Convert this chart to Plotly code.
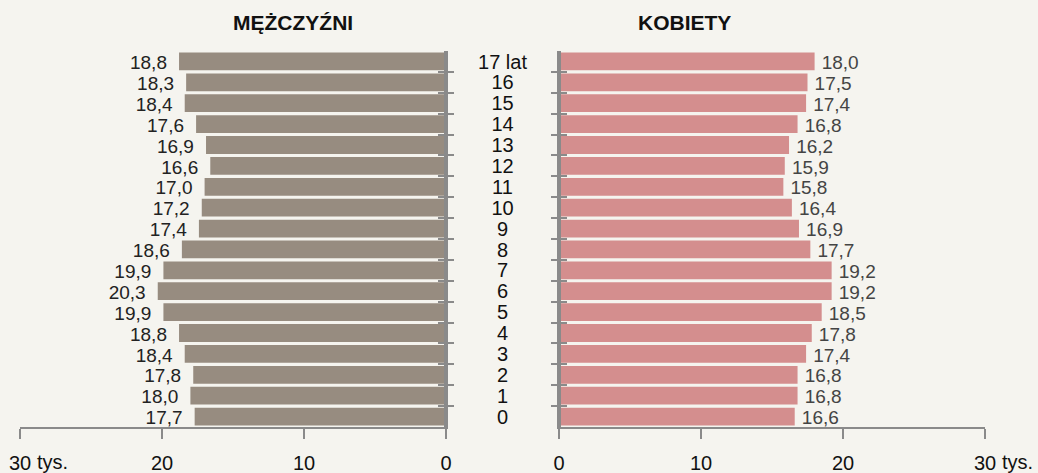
import plotly.graph_objects as go

ages = list(range(18))
age_labels = ["0", "1", "2", "3", "4", "5", "6", "7", "8", "9", "10", "11", "12", "13", "14", "15", "16", "17 lat"]
men = [17.7, 18.0, 17.8, 18.4, 18.8, 19.9, 20.3, 19.9, 18.6, 17.4, 17.2, 17.0, 16.6, 16.9, 17.6, 18.4, 18.3, 18.8]
women = [16.6, 16.8, 16.8, 17.4, 17.8, 18.5, 19.2, 19.2, 17.7, 16.9, 16.4, 15.8, 15.9, 16.2, 16.8, 17.4, 17.5, 18.0]
xticks = [0, 10, 20, 30]
men_ticktext = ["0", "10", "20", "30"]
women_ticktext = ["0", "10", "20", "30"]
unit = "tys."

def fmt(v):
    return f"{v:.1f}".replace(".", ",")

BG = "#f5f4ef"
AX = "#8a8a8a"
FONT = "Liberation Sans, Arial, sans-serif"
W, H = 1038, 473

fig = go.Figure()

fig.add_trace(go.Bar(x=men, y=ages, orientation="h", marker=dict(color="#978c80", line=dict(width=0)),
                     width=0.85, xaxis="x", yaxis="y", hoverinfo="skip", showlegend=False))
fig.add_trace(go.Bar(x=women, y=ages, orientation="h", marker=dict(color="#d48e8e", line=dict(width=0)),
                     width=0.85, xaxis="x2", yaxis="y2", hoverinfo="skip", showlegend=False))

# value labels
fig.add_trace(go.Scatter(x=[v + 0.85 for v in men], y=[a - 0.14 for a in ages], mode="text",
                         text=[fmt(v) for v in men], textposition="middle left",
                         textfont=dict(family=FONT, size=19, color="#222222"),
                         xaxis="x", yaxis="y", hoverinfo="skip", showlegend=False, cliponaxis=False))
fig.add_trace(go.Scatter(x=[v + 0.5 for v in women], y=[a - 0.14 for a in ages], mode="text",
                         text=[fmt(v) for v in women], textposition="middle right",
                         textfont=dict(family=FONT, size=19, color="#444444"),
                         xaxis="x2", yaxis="y2", hoverinfo="skip", showlegend=False, cliponaxis=False))

# centre age labels
fig.add_trace(go.Scatter(x=[0] * len(ages), y=[a - 0.1 for a in ages], mode="text", text=age_labels,
                         textposition="middle center",
                         textfont=dict(family=FONT, size=20, color="#111111"),
                         xaxis="x3", yaxis="y3", hoverinfo="skip", showlegend=False, cliponaxis=False))

px = lambda p: p / W
py = lambda p: 1 - p / H
ydom = [py(427), py(51)]
bounds = [i - 0.5 for i in range(19)]

yax_common = dict(range=[-0.5, 17.5], domain=ydom, tickmode="array", tickvals=bounds,
                  showticklabels=False, ticks="inside", ticklen=8, tickwidth=2, tickcolor=AX,
                  showline=True, linecolor=AX, linewidth=2, showgrid=False, zeroline=False, fixedrange=True)
xax_common = dict(tickmode="array", tickvals=xticks, ticks="outside", ticklen=10,
                  tickwidth=2, tickcolor=AX, showline=True, linecolor=AX, linewidth=2, showgrid=False,
                  zeroline=False, tickfont=dict(family=FONT, size=20, color="#111111"),
                  ticklabelstandoff=7, fixedrange=True, automargin=False)

xa1 = dict(xax_common); xa1.update(domain=[px(20), px(446)], range=[30, 0], anchor="y", ticktext=men_ticktext)
xa2 = dict(xax_common); xa2.update(domain=[px(559), px(985)], range=[0, 30], anchor="y2", ticktext=women_ticktext)

ya1 = dict(yax_common); ya1.update(anchor="x", side="right")
ya2 = dict(yax_common); ya2.update(anchor="x2", side="left")
ya3 = dict(yax_common); ya3.update(anchor="x3", side="left", mirror="ticks")

fig.update_layout(
    width=W, height=H, autosize=False,
    paper_bgcolor=BG, plot_bgcolor="rgba(0,0,0,0)",
    margin=dict(l=0, r=0, t=0, b=0, pad=0),
    bargap=0.15,
    xaxis=xa1, xaxis2=xa2,
    xaxis3=dict(domain=[px(446), px(559)], range=[-1, 1], anchor="y3", visible=False, fixedrange=True),
    yaxis=ya1, yaxis2=ya2, yaxis3=ya3,
    font=dict(family=FONT),
    annotations=[
        dict(text="<b>MĘŻCZYŹNI</b>", x=px(293), y=py(23), xref="paper", yref="paper",
             xanchor="center", yanchor="middle",
             showarrow=False, font=dict(family=FONT, size=21, color="#111111")),
        dict(text="<b>KOBIETY</b>", x=px(684), y=py(23), xref="paper", yref="paper",
             xanchor="center", yanchor="middle",
             showarrow=False, font=dict(family=FONT, size=21, color="#111111")),
        dict(text=unit, x=30, xref="x", xanchor="left", xshift=15, y=py(462), yref="paper",
             yanchor="middle", showarrow=False, font=dict(family=FONT, size=20, color="#111111")),
        dict(text=unit, x=30, xref="x2", xanchor="left", xshift=15, y=py(462), yref="paper",
             yanchor="middle", showarrow=False, font=dict(family=FONT, size=20, color="#111111")),
    ],
)

fig.write_html("out.html", config={"displayModeBar": False},
               post_script="document.body.style.margin='0';document.body.style.overflow='hidden';")
